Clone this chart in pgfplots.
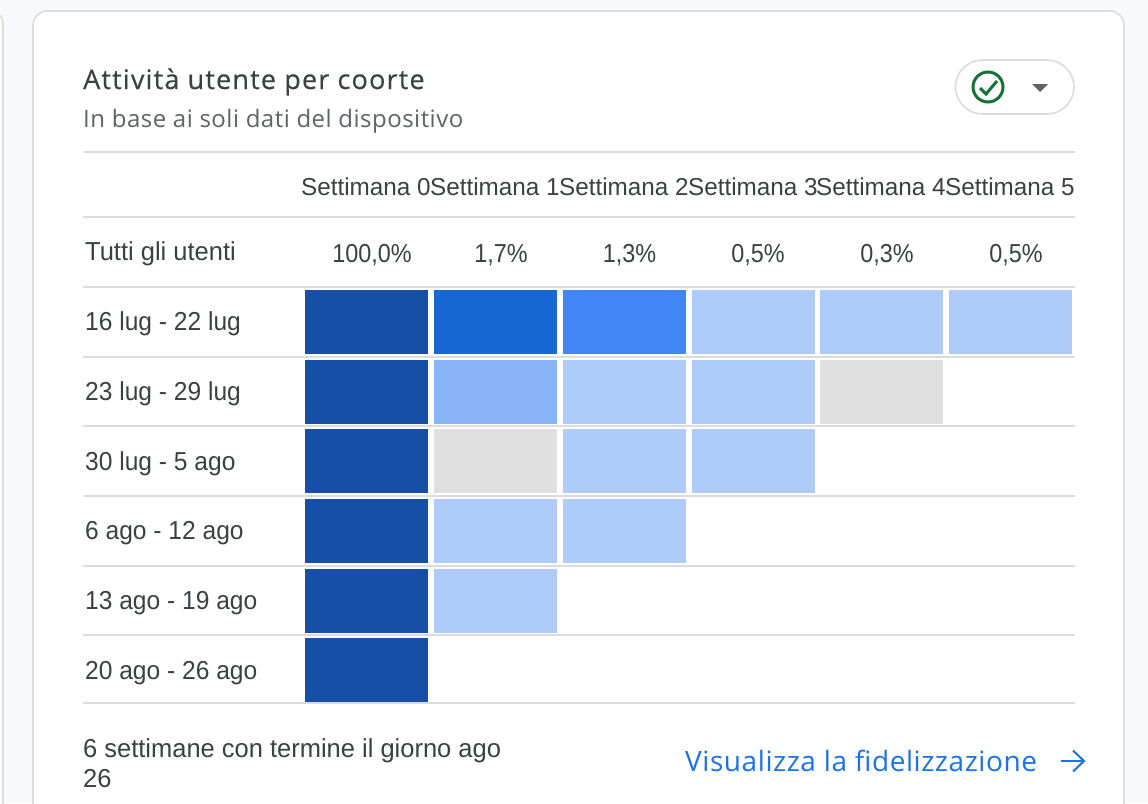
\documentclass[border=0pt]{standalone}
\usepackage{pgfplots}
\pgfplotsset{compat=1.18}
\usepackage{fontspec}
\setmainfont{Liberation Sans}
\newfontfamily\gsT[LetterSpace=4.4,FakeBold=0.35]{Open Sans}
\newfontfamily\gs[LetterSpace=2]{Open Sans}
\newfontfamily\rbH[FakeStretch=0.99]{Liberation Sans}
\newfontfamily\rbL[FakeStretch=0.945]{Liberation Sans}
\newfontfamily\rbF[FakeStretch=0.98]{Liberation Sans}
\newfontfamily\rbP[FakeStretch=0.90]{Liberation Sans}
\definecolor{bgc}{HTML}{F8F9FA}
\definecolor{rulec}{HTML}{DADCE0}
\definecolor{txt}{HTML}{3C4043}
\definecolor{sub}{HTML}{5F6368}
\definecolor{cA}{HTML}{174EA6}
\definecolor{cB}{HTML}{1967D2}
\definecolor{cC}{HTML}{4285F4}
\definecolor{cD}{HTML}{8AB4F8}
\definecolor{cE}{HTML}{AECBFA}
\definecolor{cG}{HTML}{E0E0E0}
\definecolor{linkc}{HTML}{1A73E8}
\definecolor{okc}{HTML}{137333}
\newcommand\cell[5]{\addplot[fill=#5,draw=none] coordinates {(#1,#3)(#2,#3)(#2,#4)(#1,#4)} -- cycle;}
\newcommand\hr[1]{\addplot[rulec,line width=1.6pt] coordinates {(83,#1)(1075,#1)};}
\newcommand\txt[4][txt]{\node[anchor=base west,inner sep=0pt,text=#1] at (axis cs:#2,#3) {#4};}
\newcommand\ctr[3]{\node[anchor=base,inner sep=0pt,text=txt] at (axis cs:#1,#2) {#3};}
\begin{document}
\begin{tikzpicture}
\useasboundingbox (0,0) rectangle (1148pt,803pt);
\begin{axis}[at={(0,0)},anchor=south west,width=1148pt,height=803pt,scale only axis,
  xmin=0,xmax=1148,ymin=0,ymax=803,y dir=reverse,hide axis,clip=true]
% page and cards
\addplot[fill=bgc,draw=none] coordinates {(0,0)(1148,0)(1148,803)(0,803)} -- cycle;
\addplot[fill=white,draw=rulec,line width=1.6pt,rounded corners=14pt] coordinates {(-40,10)(3,10)(3,860)(-40,860)} -- cycle;
\addplot[fill=white,draw=rulec,line width=1.6pt,rounded corners=14pt] coordinates {(33,11)(1124,11)(1124,860)(33,860)} -- cycle;
% rules
\hr{152}\hr{217}\hr{287}\hr{357}\hr{426}\hr{496}\hr{566}\hr{635}\hr{703}
% cohort cells: row 1
\cell{305}{428}{290}{354}{cA}
\cell{434}{557}{290}{354}{cB}
\cell{563}{686}{290}{354}{cC}
\cell{692}{815}{290}{354}{cE}
\cell{820}{943}{290}{354}{cE}
\cell{949}{1072}{290}{354}{cE}
% row 2
\cell{305}{428}{360}{424}{cA}
\cell{434}{557}{360}{424}{cD}
\cell{563}{686}{360}{424}{cE}
\cell{692}{815}{360}{424}{cE}
\cell{820}{943}{360}{424}{cG}
% row 3
\cell{305}{428}{429}{493}{cA}
\cell{434}{557}{429}{493}{cG}
\cell{563}{686}{429}{493}{cE}
\cell{692}{815}{429}{493}{cE}
% row 4
\cell{305}{428}{499}{563}{cA}
\cell{434}{557}{499}{563}{cE}
\cell{563}{686}{499}{563}{cE}
% row 5
\cell{305}{428}{569}{633}{cA}
\cell{434}{557}{569}{633}{cE}
% row 6
\cell{305}{428}{638}{702}{cA}
% title
\txt{83}{89}{\gsT\fontsize{27}{27}\selectfont Attività utente per coorte}
\txt[sub]{83}{127}{\gs\fontsize{24}{24}\selectfont In base ai soli dati del dispositivo}
% header
\txt{301}{195}{\rbH\fontsize{24.5}{24.5}\selectfont Settimana 0}
\txt{430}{195}{\rbH\fontsize{24.5}{24.5}\selectfont Settimana 1}
\txt{559}{195}{\rbH\fontsize{24.5}{24.5}\selectfont Settimana 2}
\txt{688}{195}{\rbH\fontsize{24.5}{24.5}\selectfont Settimana 3}
\txt{816}{195}{\rbH\fontsize{24.5}{24.5}\selectfont Settimana 4}
\txt{945}{195}{\rbH\fontsize{24.5}{24.5}\selectfont Settimana 5}
% all users
\txt{85}{260}{\rbF\fontsize{26}{26}\selectfont Tutti gli utenti}
\ctr{372}{262}{\rbP\fontsize{26}{26}\selectfont 100,0\%}
\ctr{501}{262}{\rbP\fontsize{26}{26}\selectfont 1,7\%}
\ctr{629.5}{262}{\rbP\fontsize{26}{26}\selectfont 1,3\%}
\ctr{758}{262}{\rbP\fontsize{26}{26}\selectfont 0,5\%}
\ctr{887}{262}{\rbP\fontsize{26}{26}\selectfont 0,3\%}
\ctr{1016}{262}{\rbP\fontsize{26}{26}\selectfont 0,5\%}
% row labels
\txt{85}{330}{\rbL\fontsize{26}{26}\selectfont 16 lug - 22 lug}
\txt{85}{400}{\rbL\fontsize{26}{26}\selectfont 23 lug - 29 lug}
\txt{85}{470}{\rbL\fontsize{26}{26}\selectfont 30 lug - 5 ago}
\txt{85}{539}{\rbL\fontsize{26}{26}\selectfont 6 ago - 12 ago}
\txt{85}{609}{\rbL\fontsize{26}{26}\selectfont 13 ago - 19 ago}
\txt{85}{679}{\rbL\fontsize{26}{26}\selectfont 20 ago - 26 ago}
% footer
\txt{83}{757}{\rbF\fontsize{26}{26}\selectfont 6 settimane con termine il giorno ago}
\txt{83}{787}{\rbF\fontsize{26}{26}\selectfont 26}
\txt[linkc]{685}{771}{\gs\fontsize{28}{28}\selectfont Visualizza la fidelizzazione}
\draw[linkc,line width=2pt] (axis cs:1061,761)--(axis cs:1083,761);
\draw[linkc,line width=2pt] (axis cs:1073,750.5)--(axis cs:1084,761)--(axis cs:1073,771.5);
% filter pill
\draw[fill=white,draw=rulec,line width=1.6pt,rounded corners=27pt] (axis cs:955.5,60) rectangle (axis cs:1074,114);
\draw[okc,line width=3pt] (axis cs:988,87) circle[radius=15pt];
\draw[okc,line width=3pt] (axis cs:980,88)--(axis cs:986,94)--(axis cs:997,81);
\fill[sub] (axis cs:1032,84)--(axis cs:1048,84)--(axis cs:1040,92)--cycle;
\end{axis}
\end{tikzpicture}
\end{document}
